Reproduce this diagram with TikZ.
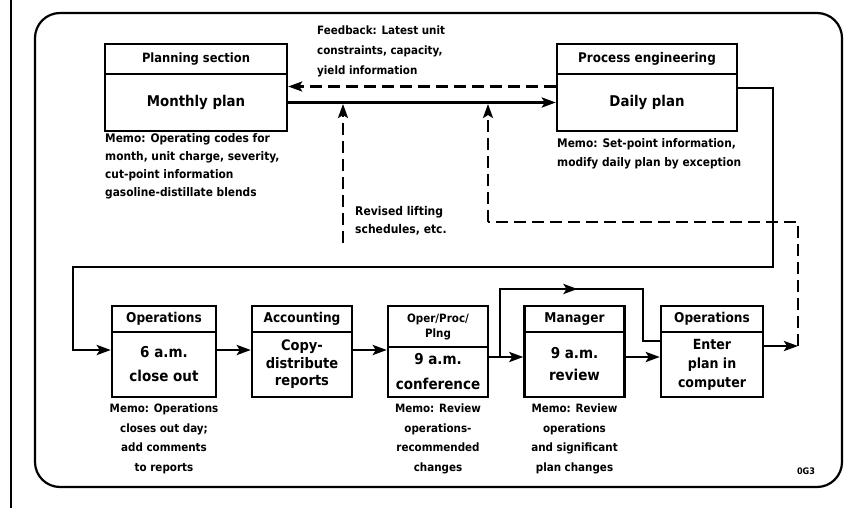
\documentclass[tikz,border=0pt]{standalone}
\usepackage{fontspec}
\setmainfont{DejaVu Sans Condensed}[BoldFont={DejaVu Sans Condensed Bold}]
\usetikzlibrary{arrows.meta,decorations.markings,calc}
\tikzset{
  box/.style={draw, line width=2.4pt, inner sep=0pt, align=center},
  hdr/.style={box, font=\bfseries\fontsize{12.8}{14}\selectfont},
  bhdr/.style={box, font=\bfseries\fontsize{13.5}{14}\selectfont},
  bigbody/.style={box, font=\bfseries\fontsize{14.8}{16}\selectfont},
  smbody/.style={box, font=\bfseries\fontsize{15}{20}\selectfont},
  memo/.style={inner sep=0pt, font=\bfseries\fontsize{11.8}{18}\selectfont},
  bmemo/.style={inner sep=0pt, align=center, anchor=north, font=\bfseries\fontsize{11.5}{19.5}\selectfont},
  tip/.style={-{Stealth[length=14pt,width=10pt,inset=3pt]}},
  flow/.style={line width=2.8pt},
  dsh/.style={line width=2.5pt, dash pattern=on 12pt off 6pt},
  frame/.style={line width=2.2pt}
}
\begin{document}
\begin{tikzpicture}[x=1pt,y=-1pt]
\useasboundingbox (0,0) rectangle (864,508);
\fill[white] (0,0) rectangle (864,508);
% page edge and outer frame
\draw[line width=2.5pt] (11,0) -- (11,508);
\draw[frame, rounded corners=25pt] (35,13) rectangle (842,487);

% top boxes
\node[hdr, minimum width=182pt, minimum height=30pt] (psh) at (196,59) {Planning section};
\node[bigbody, minimum width=182pt, minimum height=57pt] (mp) at (196,102.5) {Monthly plan};
\node[hdr, minimum width=180pt, minimum height=30pt, font=\bfseries\fontsize{13.3}{14}\selectfont] (peh) at (647,59) {Process engineering};
\node[bigbody, minimum width=180pt, minimum height=57pt] (dp) at (647,102.5) {Daily plan};

\node[memo, anchor=north west, align=left] (m1) at (105,133) {Memo: Operating codes for\\month, unit charge, severity,\\cut-point information\\gasoline-distillate blends};
\node[memo, anchor=north west, align=left, font=\bfseries\fontsize{11.8}{19.5}\selectfont] (m2) at (557,138) {Memo: Set-point information,\\modify daily plan by exception};
\node[memo, anchor=north west, align=left, font=\bfseries\fontsize{11.5}{20}\selectfont] (fb) at (317,26) {Feedback: Latest unit\\constraints, capacity,\\yield information};
\node[memo, anchor=north west, align=left, font=\bfseries\fontsize{12}{18}\selectfont] (rv) at (355,206) {Revised lifting\\schedules, etc.};

% bottom boxes
\node[bhdr, minimum width=104pt, minimum height=26pt] (o1h) at (164,319) {Operations};
\node[smbody, minimum width=104pt, minimum height=65pt, font=\bfseries\fontsize{15}{24}\selectfont] (co) at (164,364.5) {6 a.m.\\close out};
\node[bhdr, minimum width=100pt, minimum height=26pt] (ach) at (302,319) {Accounting};
\node[smbody, minimum width=100pt, minimum height=65pt, font=\bfseries\fontsize{14.5}{17.5}\selectfont] (cd) at (302,364.5) {Copy-\\distribute\\reports};
\node[bhdr, minimum width=100pt, minimum height=41pt, font=\bfseries\fontsize{11.5}{15}\selectfont] (oph) at (438,326.5) {Oper/Proc/\\Plng};
\node[smbody, minimum width=100pt, minimum height=50pt, font=\bfseries\fontsize{15}{25}\selectfont] (cf) at (438,372) {9 a.m.\\conference};
\node[bhdr, minimum width=100pt, minimum height=26pt] (mgh) at (574.5,319) {Manager};
\node[smbody, minimum width=100pt, minimum height=65pt, font=\bfseries\fontsize{15}{22}\selectfont] (rw) at (574.5,364.5) {9 a.m.\\review};
\node[bhdr, minimum width=102pt, minimum height=26pt] (o2h) at (712,319) {Operations};
\node[smbody, minimum width=102pt, minimum height=65pt, font=\bfseries\fontsize{14}{19}\selectfont] (ep) at (712,364.5) {Enter\\plan in\\computer};

\node[bmemo] (m3) at (164,404) {Memo: Operations\\closes out day;\\add comments\\to reports};
\node[bmemo] (m4) at (438,404) {Memo: Review\\operations-\\recommended\\changes};
\node[bmemo] (m5) at (574.5,404) {Memo: Review\\operations\\and significant\\plan changes};
\node[memo, font=\bfseries\fontsize{9}{10}\selectfont] (code) at (806,471) {0G3};

% coordinates
\coordinate (c1) at (773,267);
\coordinate (c2) at (73,350);
\coordinate (rowB) at (0,357);
\coordinate (r1) at (343,243);
\coordinate (r1t) at (343,104);
\coordinate (d1) at (798,346);
\coordinate (d3) at (488,222);
\coordinate (d4) at (488,104);
\coordinate (b0) at (500,357);
\coordinate (b2) at (643,289);
\coordinate (b3) at (0,341);

% top connectors
\draw[flow, tip] (mp.east) -- (dp.west);
\draw[dsh, tip] ([yshift=16pt]dp.west) -- ([yshift=16pt]mp.east);
\draw[dsh, tip] (r1) -- (r1t);
\draw[dsh] (d1) |- (d3);
\draw[dsh, tip] (d3) -- (d4);

% big loop
\draw[flow, tip] ([yshift=14.5pt]dp.east) -| (c1) -| (c2) -- (co.west |- c2);

% bottom row
\draw[flow, tip] (co.east |- c2) -- (cd.west |- c2);
\draw[flow, tip] (cd.east |- c2) -- (cf.west |- c2);
\draw[flow, tip] (cf.east |- rowB) -- (rw.west |- rowB);
\draw[flow, tip] (rw.east |- rowB) -- (ep.west |- rowB);
\draw[flow, postaction={decorate}, decoration={markings, mark=at position 0.52 with {\arrow{Stealth[length=14pt,width=10pt,inset=3pt]}}}]
  (b0) |- (b2) |- (ep.west |- b3);
\draw[flow, tip] (ep.east |- d1) -- (d1);
\end{tikzpicture}
\end{document}
